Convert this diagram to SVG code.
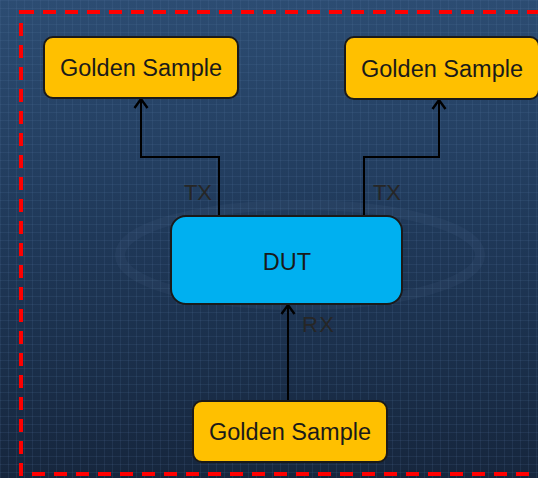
<svg xmlns="http://www.w3.org/2000/svg" width="538" height="478" viewBox="0 0 538 478">
<defs>
<linearGradient id="bg" x1="0" y1="0" x2="0" y2="1">
<stop offset="0" stop-color="#2c4c72"/>
<stop offset="0.5" stop-color="#1f3858"/>
<stop offset="1" stop-color="#16263d"/>
</linearGradient>
<pattern id="grid" width="8" height="8" patternUnits="userSpaceOnUse">
<path d="M0 0.5H8M0.5 0V8" stroke="#5a7ea8" stroke-opacity="0.14" stroke-width="1"/>
</pattern>
<marker id="arr" markerWidth="16" markerHeight="16" refX="13" refY="8" orient="auto" markerUnits="userSpaceOnUse" viewBox="0 0 16 16">
<path d="M4 1.5 L13 8 L4 14.5" fill="none" stroke="#000" stroke-width="2.4"/>
</marker>
<style>
.gs{fill:#FFC000;stroke:#1a1a1a;stroke-width:2}
.dut{fill:#00B0F0;stroke:#1a1a1a;stroke-width:2}
.t{font-family:"Liberation Sans",Arial,sans-serif;fill:#1a1a1a;text-anchor:middle;font-size:23.5px}
.lbl{font-family:"Liberation Sans",Arial,sans-serif;fill:#262626;font-size:22px}
.c{fill:none;stroke:#000;stroke-width:2}
</style>
</defs>
<rect width="538" height="478" fill="url(#bg)"/>
<rect width="538" height="478" fill="url(#grid)"/>
<ellipse cx="300" cy="255" rx="180" ry="50" fill="none" stroke="#6f8fb5" stroke-opacity="0.08" stroke-width="10"/>
<rect x="21" y="12" width="540" height="462" fill="none" stroke="#FF0000" stroke-width="4" stroke-dasharray="13,9"/>
<g id="connectors">
<path class="c" d="M219 216V157H141V99" marker-end="url(#arr)"/>
<path class="c" d="M364 216V157H439V100" marker-end="url(#arr)"/>
<path class="c" d="M288 401V305" marker-end="url(#arr)"/>
<text class="lbl" x="184" y="200" textLength="28">TX</text>
<text class="lbl" x="373" y="200" textLength="28">TX</text>
<text class="lbl" x="302" y="332" textLength="32">RX</text>
</g>
<g id="gs1">
<rect class="gs" x="44" y="37" width="194" height="61" rx="9"/>
<text class="t" x="141" y="76">Golden Sample</text>
</g>
<g id="gs2">
<rect class="gs" x="345" y="37" width="194" height="62" rx="9"/>
<text class="t" x="442" y="77">Golden Sample</text>
</g>
<g id="dut">
<rect class="dut" x="171" y="216" width="231" height="88" rx="15"/>
<text class="t" x="287" y="270">DUT</text>
</g>
<g id="gs3">
<rect class="gs" x="193" y="401" width="194" height="61" rx="9"/>
<text class="t" x="290" y="440">Golden Sample</text>
</g>
</svg>
